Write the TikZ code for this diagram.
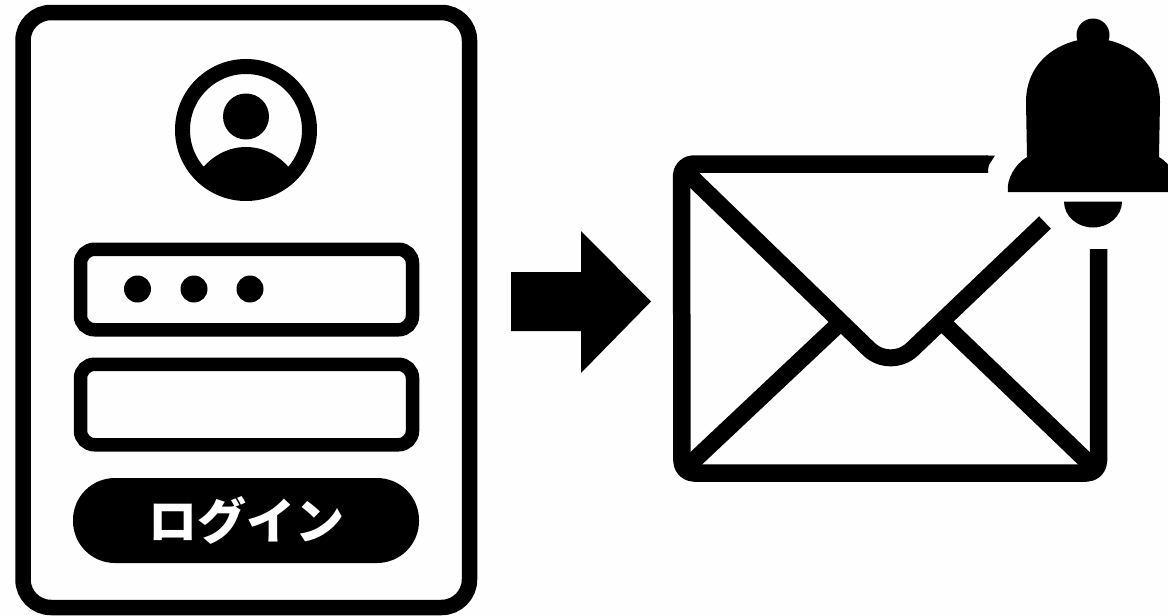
\documentclass[tikz,border=0pt]{standalone}
\usepackage{fontspec}
\newfontfamily\cjk{Noto Sans CJK JP}
\usetikzlibrary{positioning,calc}
\definecolor{LGInk}{HTML}{000000}
\definecolor{LGPaper}{HTML}{FEFEFE}
\tikzset{
  cardline/.style={draw=LGInk,line width=15.5pt,rounded corners=28pt},
  field/.style={draw=LGInk,line width=13.5pt,fill=LGPaper,rounded corners=14pt,
                minimum width=332pt,minimum height=80.5pt,inner sep=0pt},
  dotmark/.style={circle,fill=LGInk,minimum size=27pt,inner sep=0pt},
  pill/.style={fill=LGInk,rounded corners=42pt,minimum width=346pt,minimum height=85pt,
               inner sep=0pt,text=white,font=\cjk\bfseries\fontsize{49}{52}\selectfont},
  mailline/.style={draw=LGInk,line width=17.5pt,line join=round},
  flapline/.style={draw=LGInk,line width=17pt},
}
\newcommand{\avataricon}[2]{%
  \begin{scope}[shift={(#1,#2)}]
    \begin{scope}
      \clip (0,0) circle (68pt);
      \fill[LGInk] (0,90) ellipse (62pt and 73pt);
    \end{scope}
    \draw[LGInk,line width=15pt] (0,0) circle (63.5pt);
    \fill[LGInk] (0,-13.5) circle (23pt);
  \end{scope}%
}
\newcommand{\bellicon}[2]{%
  \begin{scope}[shift={(#1,#2)}]
    \fill[LGInk] (0,-157) circle (16.5pt);
    \fill[LGInk] (-85,0) .. controls (-87,-12) and (-78,-28) .. (-66,-35)
      -- (-67,-90) .. controls (-67,-130) and (-35,-152) .. (0,-154)
      .. controls (35,-152) and (67,-130) .. (67,-90) -- (66,-35)
      .. controls (78,-28) and (87,-12) .. (85,0) -- cycle;
    \fill[LGInk] (-29,9.5) arc[start angle=180,end angle=360,x radius=29pt,y radius=26pt] -- cycle;
  \end{scope}%
}

\begin{document}
\begin{tikzpicture}[x=1pt,y=-1pt]
    \useasboundingbox (0,0) rectangle (1168,616);
    \fill[LGPaper] (0,0) rectangle (1168,616);
    \clip (0,0) rectangle (1168,616);

    % login card
    \draw[cardline] (23,12.5) rectangle (469.5,607.5);
    \avataricon{246}{130}
    \node[field] (password) at (246.5,289.5) {};
    \node[field] (username) at (246.5,404.5) {};
    \node[dotmark] (dotone) at (137.5,289) {};
    \node[dotmark] (dottwo) at (194,289) {};
    \node[dotmark] (dotthree) at (250,289) {};
    \node[pill] (login) at (246,520.5) {ログイン};

    \fill[LGInk] (511,272) -- (581,272) -- (581,231) -- (651,301.5) -- (581,373)
      -- (581,331) -- (511,331) -- cycle;

    % envelope
    \draw[mailline,rounded corners=12pt] (988,164) -- (681.5,164) -- (682,473)
      -- (1098.5,473) -- (1098.5,249);
    \fill[LGInk] (986,155.5) -- (995,155.5) -- (989,165) -- (987,172.5) -- cycle;
    \draw[flapline,rounded corners=30pt] (686,172) -- (890.5,370) -- (1045,222.5);
    \draw[flapline] (688,466) -- (841,322);
    \draw[flapline] (942,322) -- (1093,467);
    \bellicon{1093}{192}
\end{tikzpicture}
\end{document}
